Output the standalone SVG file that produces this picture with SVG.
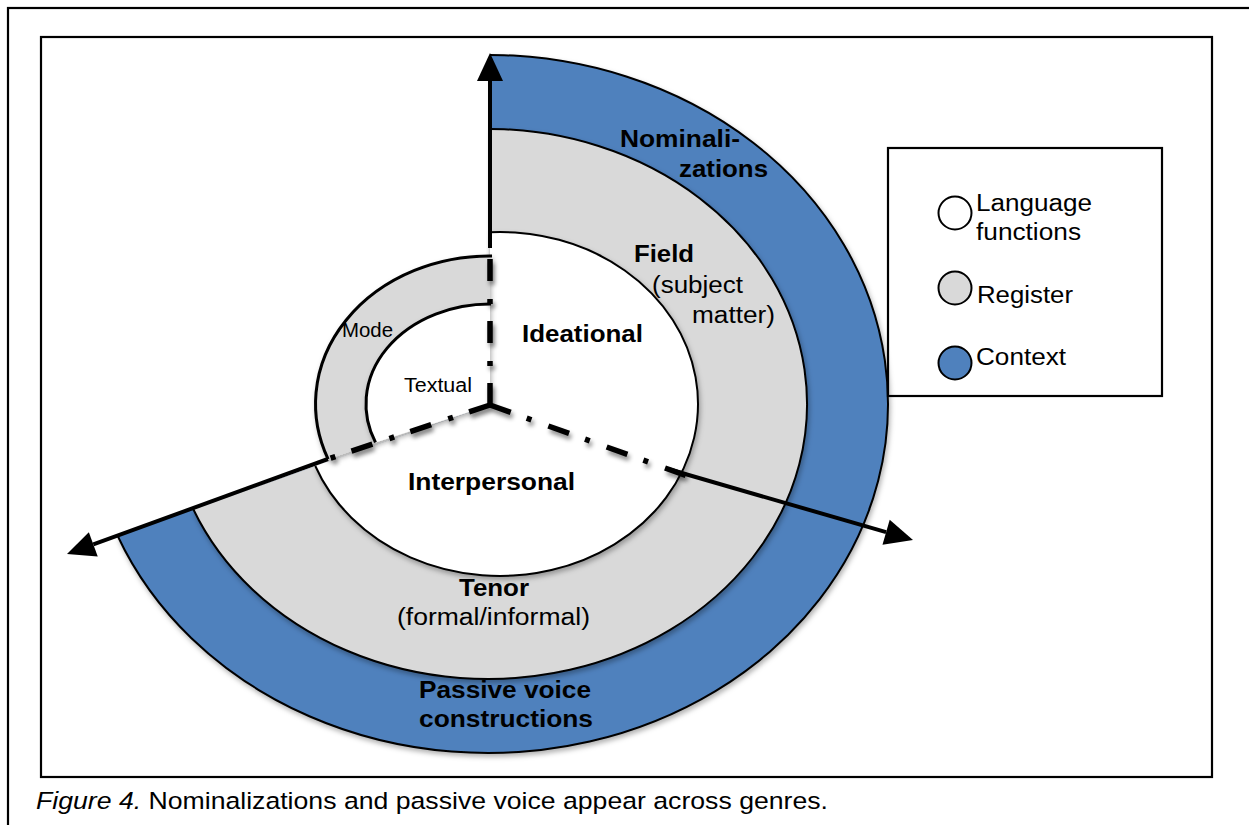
<svg xmlns="http://www.w3.org/2000/svg" width="1249" height="825" viewBox="0 0 1249 825">
  <defs>
    <style>
      text { font-family: "Liberation Sans", Arial, Helvetica, sans-serif; fill: #000; }
      .b { font-weight: bold; font-size: 23px; }
      .r { font-size: 23px; }
      .s { font-size: 19.5px; }
      .cap { font-size: 24.5px; }
      .frame { fill: none; stroke: #000; stroke-width: 2.2; }
      .arc { fill: none; stroke: #000; stroke-width: 2; }
      .arc3 { fill: none; stroke: #000; stroke-width: 3; }
      .blue { fill: #4F81BD; }
      .grey { fill: #D9D9D9; }
      .white { fill: #FFFFFF; }
      .solid { fill: none; stroke: #000; stroke-width: 4; }
      .dashdot { fill: none; stroke: #000; stroke-width: 5.5; stroke-dasharray: 22 17 5 18; }
      .key { stroke: #000; stroke-width: 2; }
    </style>
    <filter id="shade" x="-10%" y="-10%" width="120%" height="125%">
      <feDropShadow dx="1.5" dy="3" stdDeviation="2.5" flood-color="#000" flood-opacity="0.3"/>
    </filter>
    <filter id="lineShade" x="-10%" y="-20%" width="120%" height="140%">
      <feDropShadow dx="2" dy="4" stdDeviation="2.2" flood-color="#000" flood-opacity="0.45"/>
    </filter>
    <marker id="arrowhead" markerUnits="userSpaceOnUse" markerWidth="28" markerHeight="26" refX="0" refY="13" orient="auto" overflow="visible">
      <path d="M0,0 L28,13 L0,26 Z" fill="#000"/>
    </marker>
  </defs>

  <!-- page frames -->
  <rect class="frame" x="8" y="8" width="1260" height="840"/>
  <rect class="frame" x="41" y="37" width="1171" height="740" fill="#fff"/>

  <!-- outer ring: context -->
  <g id="context" filter="url(#shade)">
    <path class="blue" d="M490,405 L490,55 A400,349 0 1 1 117.7,536 Z"/>
    <path class="arc" d="M490,55 A400,349 0 1 1 117.7,536"/>
  </g>

  <!-- middle ring: register (field / tenor) -->
  <g id="register" filter="url(#shade)">
    <path class="grey" d="M490,405 L490,129 A319,275 0 1 1 193.3,509.2 Z"/>
    <path class="arc" d="M490,129 A319,275 0 1 1 193.3,509.2"/>
  </g>

  <!-- inner area: ideational / interpersonal functions -->
  <g id="language-functions" filter="url(#shade)">
    <path class="white" d="M490,405 L490,232.2 A198,172 0 1 1 315.3,466 Z"/>
    <path class="arc" d="M490,232.2 A198,172 0 1 1 315.3,466"/>
  </g>

  <!-- mode ring -->
  <g id="mode" filter="url(#shade)">
    <path class="grey" d="M328.1,459.2 A174,148 0 0 1 490,256 L490,304 A124,100 0 0 0 375.5,442.4 Z"/>
    <path class="arc3" d="M328.1,459.2 A174,148 0 0 1 492,256"/>
  </g>

  <!-- textual function -->
  <g id="textual" filter="url(#shade)">
    <path class="white" d="M490,405 L375.5,442.4 A124,100 0 0 1 490,304 Z"/>
    <path class="arc3" d="M375.5,442.4 A124,100 0 0 1 491,304"/>
  </g>

  <!-- axes -->
  <g id="connectors">
    <g filter="url(#lineShade)">
      <path class="dashdot" d="M490,405 L490,252"/>
      <path class="dashdot" d="M490,405 L328,459"/>
      <path class="dashdot" d="M490,405 L690,477"/>
    </g>
    <path class="solid" d="M490,248 L490,81" marker-end="url(#arrowhead)"/>
    <path class="solid" d="M328,459 L93.3,544.4" marker-end="url(#arrowhead)"/>
    <path class="solid" d="M668,469 L886.1,532.2" marker-end="url(#arrowhead)"/>
  </g>

  <!-- ring labels -->
  <g id="label-context">
    <text class="b" x="620" y="147" textLength="120" lengthAdjust="spacingAndGlyphs">Nominali-</text>
    <text class="b" x="679" y="177" textLength="89" lengthAdjust="spacingAndGlyphs">zations</text>
    <text class="b" x="419" y="698" textLength="172" lengthAdjust="spacingAndGlyphs">Passive voice</text>
    <text class="b" x="419" y="727" textLength="174" lengthAdjust="spacingAndGlyphs">constructions</text>
  </g>
  <g id="label-register">
    <text class="b" x="634" y="262" textLength="60" lengthAdjust="spacingAndGlyphs">Field</text>
    <text class="r" x="652" y="293" textLength="91" lengthAdjust="spacingAndGlyphs">(subject</text>
    <text class="r" x="692" y="323" textLength="83" lengthAdjust="spacingAndGlyphs">matter)</text>
    <text class="b" x="459" y="596" textLength="70" lengthAdjust="spacingAndGlyphs">Tenor</text>
    <text class="r" x="397" y="625" textLength="193" lengthAdjust="spacingAndGlyphs">(formal/informal)</text>
  </g>
  <g id="label-functions">
    <text class="b" x="522" y="342" textLength="121" lengthAdjust="spacingAndGlyphs">Ideational</text>
    <text class="b" x="408" y="490" textLength="167" lengthAdjust="spacingAndGlyphs">Interpersonal</text>
  </g>
  <g id="label-mode">
    <text class="s" x="342" y="337" textLength="51" lengthAdjust="spacingAndGlyphs">Mode</text>
    <text class="s" x="404" y="392" textLength="68" lengthAdjust="spacingAndGlyphs">Textual</text>
  </g>

  <!-- key -->
  <g id="legend">
    <rect class="frame" x="888" y="148" width="274" height="248" fill="#fff"/>
    <g id="legend-functions">
      <circle class="key" cx="955" cy="213" r="16.5" fill="#fff"/>
      <text class="r" x="976" y="211" textLength="116" lengthAdjust="spacingAndGlyphs">Language</text>
      <text class="r" x="976" y="240" textLength="105" lengthAdjust="spacingAndGlyphs">functions</text>
    </g>
    <g id="legend-register">
      <circle class="key" cx="955" cy="288" r="16.5" fill="#D9D9D9"/>
      <text class="r" x="977" y="303" textLength="96" lengthAdjust="spacingAndGlyphs">Register</text>
    </g>
    <g id="legend-context">
      <circle class="key" cx="955" cy="363" r="16.5" fill="#4F81BD"/>
      <text class="r" x="976" y="365" textLength="90" lengthAdjust="spacingAndGlyphs">Context</text>
    </g>
  </g>

  <!-- caption -->
  <text class="cap" x="36" y="809" textLength="792" lengthAdjust="spacingAndGlyphs"><tspan font-style="italic">Figure 4.</tspan> Nominalizations and passive voice appear across genres.</text>
</svg>
